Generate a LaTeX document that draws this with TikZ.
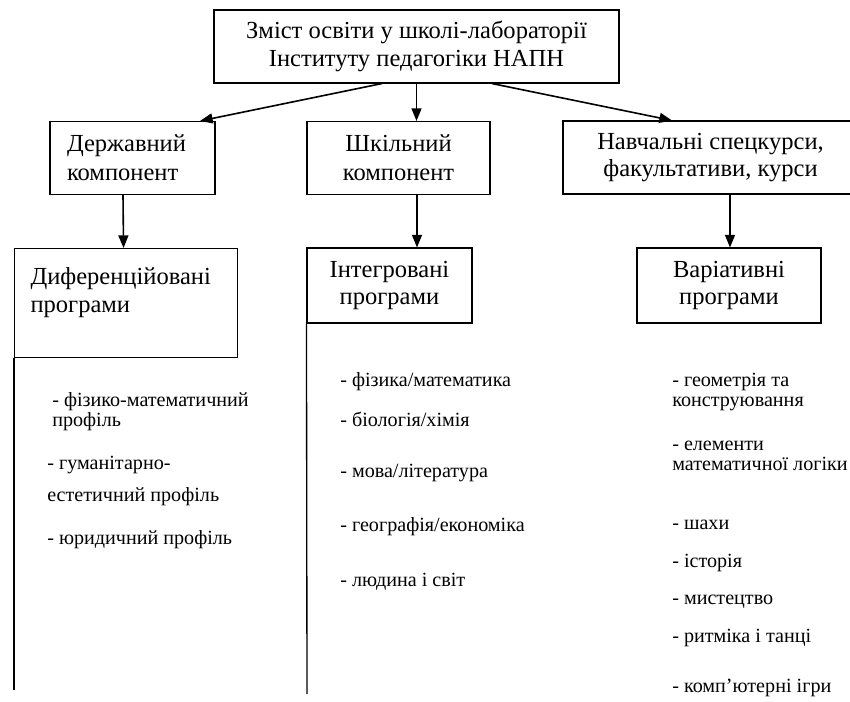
\documentclass[tikz,border=0pt]{standalone}
\usepackage{fontspec}
\setmainfont{Liberation Serif}
\usetikzlibrary{calc,positioning,arrows.meta}

\begin{document}
\begin{tikzpicture}[x=0.75pt,y=-0.75pt,
	box/.style={rectangle,draw,line width=0.8pt,align=center,inner sep=0pt,
	  minimum height=54.75pt,font=\fontsize{18.4}{20.5}\selectfont},
	leftbox/.style={box,align=left,inner xsep=12.75pt},
	item/.style={anchor=west,align=left,inner sep=0pt,font=\fontsize{15.1}{15}\selectfont},
	arr/.style={line width=1.2pt,-{Triangle[length=9.5pt,width=7.5pt]}},
	trunk/.style={line width=1pt}
	]
  \path[clip,use as bounding box] (0,0) rectangle (850,701);
  % top level
  \node[box,minimum width=303.75pt] (zmist) at (416.5,46.5)
    {Зміст освіти у школі-лабораторії\\Інституту педагогіки НАПН};
  % components
  \node[leftbox,text width=98.25pt,minimum width=123.75pt] (derzh) at (132.5,158) {Державний\\[1pt]компонент};
  \node[box,minimum width=137.25pt] (shkil) at (398.5,158) {Шкільний\\[1pt]компонент};
  \node[box,minimum width=221.25pt] (navch) at (710.5,157.5) {Навчальні спецкурси,\\факультативи, курси};
  % programs
  \node[box,anchor=north west,align=left,inner xsep=12pt] (dyfer) at (14,248)
    {\parbox[c][81.75pt][t]{143.25pt}{\vspace*{14pt}Диференційовані\\[1pt]програми}};
  \node[box,minimum width=123.75pt,minimum height=56.25pt] (integr) at (389.5,285.5) {Інтегровані\\програми};
  \node[box,minimum width=138pt,minimum height=56.25pt] (variat) at (729,285.5) {Варіативні\\програми};

  \draw[arr] ($(zmist.south)+(-34.5,0)$) -- ($(derzh.north)+(67.5,0)$);
  \draw[arr] (zmist.south) -- (zmist.south |- shkil.north);
  \draw[arr] ($(zmist.south)+(75.5,0)$) -- ($(navch.north)+(-38.5,0)$);
  \draw[arr] ($(derzh.south)+(-9.5,0)$) -- ($(dyfer.north)+(-2.5,0)$);
  \draw[arr] ($(shkil.south)+(18.5,0)$) -- ($(integr.north)+(27.5,0)$);
  \draw[arr] ($(navch.south)+(19.5,0)$) -- ($(variat.north)+(1,0)$);

  % trunks
  \coordinate (dyferend) at (14,690);
  \coordinate (integrend) at (307,694);
  \draw[trunk] (dyfer.south west) -- (dyferend);
  \draw[trunk] (integr.south west) -- (integrend);

  % profiles
  \node[item] (d1) at (52,412) {- фізико-математичний\\профіль};
  \node[item] (d2) at (47,481) {- гуманітарно-\\[9pt]естетичний профіль};
  \node[item] (d3) at (47,540) {- юридичний профіль};
  % integrated
  \node[item] (i1) at (340,382) {- фізика/математика};
  \node[item] (i2) at (340,419) {- біологія/хімія};
  \node[item] (i3) at (340,473) {- мова/література};
  \node[item] (i4) at (340,527) {- географія/економіка};
  \node[item] (i5) at (340,582) {- людина і світ};
  % variative
  \node[item] (v1) at (672,392) {- геометрія та\\конструювання};
  \node[item] (v2) at (672,456) {- елементи\\математичної логіки};
  \node[item] (v3) at (672,525) {- шахи};
  \node[item] (v4) at (672,563) {- історія};
  \node[item] (v5) at (672,602) {- мистецтво};
  \node[item] (v6) at (672,638) {- ритміка і танці};
  \node[item] (v7) at (672,688) {- комп’ютерні ігри};
\end{tikzpicture}
\end{document}
